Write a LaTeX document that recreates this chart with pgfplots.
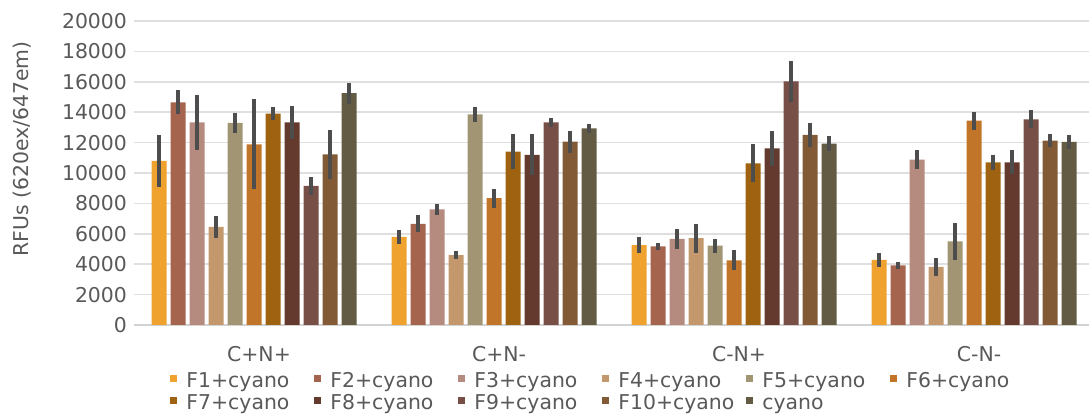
\documentclass[border=0pt]{standalone}
\usepackage{pgfplots}
\usepackage{pgfplotstable}
\usepackage{fontspec}
\setmainfont{DejaVu Sans}
\pgfplotsset{compat=1.18}

\definecolor{txtgray}{HTML}{595959}
\definecolor{errgray}{HTML}{4D4D4D}
\definecolor{c1}{HTML}{F0A22E}
\definecolor{c2}{HTML}{A5644E}
\definecolor{c3}{HTML}{B58B80}
\definecolor{c4}{HTML}{C3986D}
\definecolor{c5}{HTML}{A19574}
\definecolor{c6}{HTML}{C17529}
\definecolor{c7}{HTML}{9E6210}
\definecolor{c8}{HTML}{643A2F}
\definecolor{c9}{HTML}{774F46}
\definecolor{c10}{HTML}{825A36}
\definecolor{c11}{HTML}{635B43}

% mean and error per series, one row per condition
\pgfplotstableread{
x f1 e1 f2 e2 f3 e3 f4 e4 f5 e5 f6 e6 f7 e7 f8 e8 f9 e9 f10 e10 f11 e11
0 10790 1680 14650 780 13330 1820 6450 710 13290 630 11890 2960 13900 440 13330 1075 9150 590 11230 1610 15260 690
1 5790 490 6650 560 7610 360 4600 285 13860 480 8350 625 11400 1150 11200 1360 13330 310 12060 725 12940 310
2 5260 525 5180 230 5660 670 5720 955 5220 460 4250 660 10640 1250 11620 1150 16030 1350 12500 800 11930 515
3 4280 440 3930 220 10880 625 3820 600 5500 1200 13440 580 10700 515 10700 790 13530 600 12130 450 12040 470
}\data

\pgfplotsset{
  bars/.style={fill=#1, draw=none,
    error bars/.cd, y dir=both, y explicit, error mark=none,
    error bar style={draw=errgray, line width=1.8pt}},
}

\begin{document}
\begin{tikzpicture}
\useasboundingbox (-67pt,-45.5pt) rectangle (477.5pt,162.5pt);
\begin{axis}[
    scale only axis,
    width=477.5pt, height=152pt,
    font=\fontsize{10.2}{12}\selectfont,
    /pgf/number format/assume math mode=true,
    ybar=2pt, bar width=7.5pt,
    xmin=-0.5, xmax=3.479,
    ymin=0, ymax=20000,
    xtick={0,1,2,3},
    xticklabels={C+N+,C+N-,C-N+,C-N-},
    ytick={0,2000,...,20000},
    scaled y ticks=false,
    yticklabel style={/pgf/number format/1000 sep={}},
    ticklabel style={text=txtgray},
    xticklabel style={yshift=-3pt, xshift=2.5pt},
    tick style={draw=none},
    axis lines*=left,
    x axis line style={draw=gray!35, line width=0.75pt},
    y axis line style={draw=none},
    ymajorgrids,
    grid style={draw=gray!25, line width=0.75pt},
    ylabel={RFUs (620ex/647em)},
    ylabel style={at={(axis description cs:-0.1173,0.579)}, anchor=center, text=txtgray},
    legend columns=6,
    legend cell align=left,
    legend style={draw=none, fill=none, inner sep=0pt, column sep=0pt, row sep=0pt,
      at={(axis description cs:0.0377,-0.1513)}, anchor=north west,
      nodes={text=txtgray, inner xsep=4.5pt, inner ysep=0pt, text height=8pt, text depth=3pt, text width=59.5pt}},
    legend image code/.code={\fill[#1,draw=none] (0pt,0pt) rectangle (3.5pt,3.5pt);},
]
\addplot[bars=c1] table[x=x, y=f1, y error=e1] {\data};
\addplot[bars=c2] table[x=x, y=f2, y error=e2] {\data};
\addplot[bars=c3] table[x=x, y=f3, y error=e3] {\data};
\addplot[bars=c4] table[x=x, y=f4, y error=e4] {\data};
\addplot[bars=c5] table[x=x, y=f5, y error=e5] {\data};
\addplot[bars=c6] table[x=x, y=f6, y error=e6] {\data};
\addplot[bars=c7] table[x=x, y=f7, y error=e7] {\data};
\addplot[bars=c8] table[x=x, y=f8, y error=e8] {\data};
\addplot[bars=c9] table[x=x, y=f9, y error=e9] {\data};
\addplot[bars=c10] table[x=x, y=f10, y error=e10] {\data};
\addplot[bars=c11] table[x=x, y=f11, y error=e11] {\data};
\legend{F1+cyano,F2+cyano,F3+cyano,F4+cyano,F5+cyano,F6+cyano,F7+cyano,F8+cyano,F9+cyano,F10+cyano,cyano}
\end{axis}
\end{tikzpicture}
\end{document}
